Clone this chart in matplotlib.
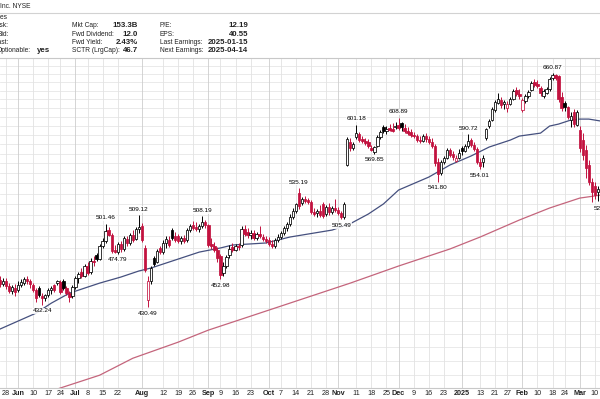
import numpy as np
import pandas as pd
import matplotlib
matplotlib.use('Agg')
import matplotlib.pyplot as plt
from matplotlib.lines import Line2D
from matplotlib.ticker import NullLocator

# daily candles, 23 May 2024 .. 13 Mar 2025
opens = [452.3, 449.0, 451.5, 447.4, 443.3, 445.7, 444.1, 448.2, 449.8, 453.1,
         451.5, 448.2, 444.1, 445.7, 439.2, 437.6, 440.0, 444.1, 448.2, 449.8,
         450.7, 451.5, 445.7, 441.6, 439.2, 446.6, 454.0, 459.0, 455.7, 464.1,
         459.0, 468.3, 473.5, 470.0, 481.4, 485.8, 495.7, 491.2, 477.9, 476.1,
         483.2, 478.8, 487.6, 484.1, 491.2, 487.6, 496.6, 499.4, 479.7, 436.0,
         451.5, 470.9, 467.5, 479.7, 476.1, 484.1, 486.7, 495.7, 490.3, 490.3,
         485.8, 488.5, 486.7, 495.7, 500.3, 498.5, 496.6, 499.4, 503.1, 500.3,
         483.2, 481.4, 477.9, 472.6, 458.2, 464.1, 473.5, 480.6, 477.9, 481.4,
         482.3, 496.6, 493.9, 491.2, 493.0, 488.5, 492.1, 489.4, 487.6, 486.7,
         483.2, 481.4, 486.7, 489.4, 493.0, 497.5, 501.2, 507.7, 513.3, 530.5,
         520.8, 524.6, 523.7, 521.8, 512.3, 511.4, 513.3, 519.8, 510.4, 517.0,
         512.3, 516.1, 514.2, 511.4, 507.7, 558.4, 582.4, 576.0, 587.7, 591.0,
         585.6, 583.4, 582.4, 576.0, 571.8, 578.1, 587.7, 598.6, 594.2, 597.5,
         596.4, 598.6, 600.8, 603.0, 597.5, 594.2, 593.1, 589.9, 588.8, 584.5,
         583.4, 588.8, 585.6, 582.4, 578.1, 561.5, 550.3, 561.5, 565.5, 573.9,
         569.7, 562.5, 565.5, 576.0, 572.9, 578.1, 584.5, 579.2, 575.0, 561.5,
         561.5, 586.7, 599.7, 606.3, 617.5, 625.5, 628.9, 624.3, 619.8, 624.3,
         630.0, 640.6, 635.9, 617.5, 627.8, 633.5, 640.6, 650.0, 647.7, 642.9,
         633.5, 637.1, 641.8, 654.8, 658.4, 657.2, 632.4, 625.5, 620.9, 606.3,
         615.3, 600.8, 595.3, 584.5, 573.9, 558.4, 541.2, 537.3, 531.4, 533.4,
         527.5]
highs = [455.7, 454.0, 454.0, 449.8, 448.2, 449.0, 451.5, 453.1, 454.8, 455.7,
         453.1, 449.8, 445.7, 447.4, 441.6, 440.8, 445.7, 447.4, 449.0, 452.3,
         452.3, 453.1, 447.4, 443.3, 448.2, 455.7, 459.0, 462.4, 465.7, 467.5,
         470.9, 472.6, 475.3, 483.2, 488.5, 501.46, 498.5, 493.0, 482.3, 485.0,
         485.8, 490.3, 490.3, 493.0, 495.7, 498.5, 509.12, 502.2, 482.3, 455.7,
         464.1, 472.6, 478.8, 481.4, 486.7, 490.3, 490.3, 497.5, 493.9, 492.1,
         490.3, 491.2, 497.5, 501.2, 504.0, 503.1, 501.2, 508.19, 504.9, 501.2,
         488.5, 485.0, 480.6, 474.4, 467.5, 473.5, 482.3, 484.1, 483.2, 484.1,
         499.4, 500.3, 497.5, 495.7, 495.7, 493.9, 499.4, 492.1, 490.3, 489.4,
         486.7, 488.5, 492.1, 494.8, 499.4, 503.1, 510.4, 516.1, 520.8, 535.19,
         526.6, 527.5, 525.6, 523.7, 516.1, 515.1, 518.9, 521.8, 518.9, 520.8,
         518.0, 524.6, 517.0, 513.3, 521.8, 587.7, 586.7, 582.4, 601.18, 593.1,
         588.8, 586.7, 585.6, 579.2, 578.1, 589.9, 595.3, 600.8, 599.7, 601.9,
         603.0, 604.1, 608.89, 604.1, 601.9, 598.6, 596.4, 593.1, 591.0, 588.8,
         591.0, 592.0, 588.8, 586.7, 580.3, 565.5, 563.5, 567.7, 576.0, 576.0,
         572.9, 568.7, 575.0, 578.1, 580.3, 590.72, 586.7, 582.4, 577.1, 565.5,
         568.7, 597.5, 607.4, 621.0, 628.9, 637.2, 632.4, 628.9, 627.8, 632.4,
         641.8, 644.1, 641.8, 631.2, 635.9, 640.6, 651.2, 653.6, 652.4, 645.3,
         641.8, 644.1, 655.6, 660.87, 659.6, 658.4, 638.3, 627.8, 622.1, 615.3,
         618.6, 617.5, 599.7, 592.0, 579.2, 563.5, 545.2, 541.2, 537.3, 539.3,
         531.4]
lows = [446.6, 447.4, 444.9, 441.6, 440.8, 439.2, 442.5, 446.6, 448.2, 449.0,
        445.7, 442.5, 434.4, 438.4, 432.24, 435.2, 438.4, 440.8, 442.5, 448.2,
        440.8, 444.1, 440.0, 434.4, 437.6, 444.9, 449.8, 454.0, 454.8, 456.5,
        457.3, 464.1, 468.3, 469.2, 479.7, 484.1, 490.3, 475.3, 475.5, 474.79,
        476.1, 477.0, 481.4, 482.3, 485.0, 486.7, 493.0, 485.0, 459.0, 430.49,
        449.0, 464.1, 466.6, 474.4, 474.4, 479.7, 480.6, 486.7, 485.0, 484.1,
        483.2, 484.1, 485.0, 493.9, 495.7, 494.8, 493.9, 497.5, 497.5, 480.6,
        478.8, 476.1, 467.5, 452.98, 455.7, 462.4, 470.9, 476.1, 477.0, 477.9,
        480.6, 490.3, 488.5, 487.6, 486.7, 486.7, 488.5, 485.8, 484.1, 481.4,
        479.7, 479.7, 485.0, 487.6, 491.2, 494.8, 499.4, 505.8, 511.4, 515.1,
        518.9, 520.8, 519.8, 510.4, 508.6, 507.7, 507.7, 506.8, 508.6, 509.5,
        510.4, 512.3, 509.5, 505.49, 505.8, 557.4, 572.9, 573.9, 585.6, 582.4,
        581.3, 579.2, 576.0, 572.9, 569.85, 577.1, 585.6, 592.0, 591.0, 594.2,
        593.1, 596.4, 595.3, 594.2, 592.0, 589.9, 587.7, 586.7, 582.4, 581.3,
        582.4, 582.4, 580.3, 576.0, 557.4, 541.80, 548.2, 559.4, 564.5, 566.6,
        563.5, 561.5, 564.5, 568.7, 571.8, 576.0, 577.1, 572.9, 559.4, 554.01,
        556.4, 584.5, 597.5, 605.2, 615.3, 624.3, 619.8, 618.6, 615.3, 623.2,
        628.9, 633.5, 630.0, 615.3, 625.5, 631.2, 639.4, 644.1, 642.9, 633.5,
        631.2, 635.9, 639.4, 652.4, 652.4, 626.6, 616.4, 616.4, 607.4, 598.6,
        598.6, 599.7, 571.8, 563.5, 545.2, 538.3, 521.8, 524.6, 522.7, 523.7,
        521.24]
closes = [449.0, 451.5, 447.4, 443.3, 446.6, 442.5, 448.2, 450.7, 453.1, 451.5,
          449.0, 444.1, 437.6, 440.0, 437.6, 440.0, 444.1, 445.7, 444.1, 451.5,
          442.5, 445.7, 441.6, 438.4, 446.6, 454.0, 457.3, 455.7, 464.1, 458.2,
          468.3, 467.5, 470.0, 481.4, 485.8, 494.8, 491.2, 477.0, 476.1, 483.2,
          478.8, 488.5, 484.1, 491.2, 486.7, 496.6, 498.5, 486.7, 460.7, 451.5,
          462.4, 465.7, 477.0, 476.1, 484.1, 487.6, 482.3, 488.5, 486.7, 485.8,
          488.5, 485.8, 495.7, 499.4, 497.5, 496.6, 499.4, 503.1, 500.3, 482.3,
          481.4, 477.9, 470.9, 456.5, 464.1, 471.8, 478.8, 477.9, 481.4, 480.6,
          496.6, 492.1, 491.2, 493.0, 488.5, 492.1, 490.3, 487.6, 485.8, 483.2,
          481.4, 486.7, 489.4, 493.0, 497.5, 501.2, 507.7, 513.3, 519.8, 518.0,
          524.6, 522.7, 521.8, 512.3, 510.4, 513.3, 509.5, 508.6, 517.0, 512.3,
          516.1, 514.2, 511.4, 507.7, 519.8, 585.6, 576.0, 580.3, 592.0, 584.5,
          583.4, 581.3, 578.1, 573.9, 577.1, 587.7, 593.1, 594.2, 596.4, 595.3,
          594.2, 599.7, 597.5, 598.6, 594.2, 592.0, 589.9, 588.8, 584.5, 583.4,
          588.8, 585.6, 582.4, 578.1, 560.5, 549.2, 561.5, 565.5, 573.9, 568.7,
          566.6, 565.5, 570.8, 572.9, 578.1, 583.4, 579.2, 575.0, 561.5, 557.4,
          565.5, 596.4, 605.2, 618.6, 626.6, 630.0, 623.2, 626.6, 624.3, 630.0,
          639.4, 635.9, 633.5, 628.9, 633.5, 638.3, 648.8, 646.5, 645.3, 637.1,
          639.4, 641.8, 653.6, 658.4, 654.8, 630.0, 619.8, 620.9, 609.7, 610.8,
          601.9, 615.3, 576.0, 568.7, 555.3, 541.2, 531.4, 528.5, 534.3, 527.5,
          525.6]

# moving averages (trading day, 0 = 28 May 2024)
ma50_days = [-2, 10, 15, 21, 31, 38, 44, 48, 56, 64, 71, 75, 86, 94, 108, 114,
             120, 125, 130, 140, 147, 154, 160, 167, 170, 177, 180, 183, 187,
             190, 193, 197]
ma50_vals = [413.5, 425.8, 433.6, 441.6, 449.8, 454.8, 459.9, 462.4, 469.2,
             476.1, 479.7, 482.3, 484.1, 489.4, 495.7, 501.5, 510.5, 520.0,
             533.4, 546.2, 558.4, 567.7, 577.1, 584.5, 588.8, 592.0, 599.7,
             601.9, 606.3, 607.4, 607.4, 605.2]
ma200_days = [10, 18, 31, 42, 57, 67, 81, 97, 114, 130, 147, 157, 170, 180,
              190, 197]
ma200_vals = [365.6, 371.2, 380.0, 392.0, 403.7, 412.7, 423.4, 436.0, 449.8,
              464.1, 478.8, 489.4, 504.9, 516.1, 525.6, 528.5]

high_marks = [33, 44, 65, 97, 116, 130, 153, 181]
low_marks = [12, 37, 47, 71, 111, 122, 143, 157, 198]

tick_dates = ['2024-05-28', '2024-06-03', '2024-06-10', '2024-06-17', '2024-06-24',
              '2024-07-01', '2024-07-08', '2024-07-15', '2024-07-22', '2024-08-01',
              '2024-08-12', '2024-08-19', '2024-08-26', '2024-09-03', '2024-09-09',
              '2024-09-16', '2024-09-23', '2024-10-01', '2024-10-07', '2024-10-14',
              '2024-10-21', '2024-10-28', '2024-11-01', '2024-11-11', '2024-11-18',
              '2024-11-25', '2024-12-02', '2024-12-09', '2024-12-16', '2024-12-23',
              '2025-01-02', '2025-01-13', '2025-01-21', '2025-01-27', '2025-02-03',
              '2025-02-10', '2025-02-18', '2025-02-24', '2025-03-03', '2025-03-10']
tick_text = ['28', 'Jun', '10', '17', '24', 'Jul', '8', '15', '22', 'Aug',
             '12', '19', '26', 'Sep', '9', '16', '23', 'Oct', '7', '14',
             '21', '28', 'Nov', '11', '18', '25', 'Dec', '9', '16', '23',
             '2025', '13', '21', '27', 'Feb', '10', '18', '24', 'Mar', '10']

holidays = ['2024-05-27', '2024-06-19', '2024-07-04', '2024-09-02', '2024-11-28',
            '2024-12-25', '2025-01-01', '2025-01-09', '2025-01-20', '2025-02-17']

days = pd.bdate_range('2024-05-23', '2025-03-13')
days = days[~days.isin(pd.to_datetime(holidays))]
OFF = 2  # 28 May is the third session shown

o = np.array(opens)
h = np.array(highs)
l = np.array(lows)
c = np.array(closes)
x = np.arange(len(c))

RED = '#c2123f'
prev = np.concatenate([[o[0]], c[:-1]])
cols = np.where(c >= prev, 'black', RED)
faces = np.where(c >= o, 'white', cols)

fig = plt.figure(figsize=(6, 3.99), dpi=100)
ax = fig.add_axes([0, 11 / 399, 1, 330 / 399])
ax.set_yscale('log')

# grid
for lev in np.arange(380, 690, 10):
    ax.axhline(lev, color='#e2e2e2', lw=0.5, zorder=0)
tick_pos = [days.get_loc(pd.Timestamp(d)) for d in tick_dates]
for p, t in zip(tick_pos, tick_text):
    big = not t.isdigit() or len(t) == 4
    ax.axvline(p, color='#cdcdcd' if big else '#e2e2e2', lw=0.6, zorder=0)

ax.plot(np.array(ma50_days) + OFF, ma50_vals, color='#45507e', lw=0.9, zorder=2)
ax.plot(np.array(ma200_days) + OFF, ma200_vals, color='#c4657c', lw=0.9, zorder=2)

ax.vlines(x, l, h, colors=cols, lw=0.7, zorder=3)
ax.bar(x, np.maximum(np.abs(c - o), 0.35), bottom=np.minimum(o, c), width=0.78,
       color=faces, edgecolor=cols, linewidth=0.55, zorder=4)

box = dict(boxstyle='square,pad=0.12', fc='white', ec='none', alpha=0.85)
for i in high_marks:
    ax.annotate(f'{h[i + OFF]:.2f}', (i + OFF, h[i + OFF]), xytext=(0, 2.5),
                textcoords='offset points', ha='center', va='bottom',
                fontsize=4.6, family='Liberation Sans', bbox=box,
                annotation_clip=False, zorder=6)
for i in low_marks:
    ax.annotate(f'{l[i + OFF]:.2f}', (i + OFF, l[i + OFF]), xytext=(0, -2.5),
                textcoords='offset points', ha='center', va='top',
                fontsize=4.6, family='Liberation Sans', bbox=box,
                annotation_clip=False, zorder=6)

ax.set_xlim(0.013, 198.7)
ax.set_ylim(371.2, 679.3)
ax.yaxis.set_minor_locator(NullLocator())
ax.set_yticks([])
ax.set_xticks(tick_pos)
ax.set_xticklabels(tick_text)
ax.tick_params(axis='x', length=0, pad=1.2, labelsize=5.2, labelcolor='#222222')
for lab, t in zip(ax.get_xticklabels(), tick_text):
    lab.set_family('Liberation Sans')
    if not t.isdigit() or len(t) == 4:
        lab.set_fontweight('bold')
for s in ['left', 'right']:
    ax.spines[s].set_visible(False)
for s in ['top', 'bottom']:
    ax.spines[s].set_color('#c8c8c8')
    ax.spines[s].set_linewidth(0.8)

# header panel
fig.add_artist(Line2D([0, 1], [1 - 12.7 / 399] * 2, color='#d2d2d2', lw=0.8))


def head(px, py, s, ha='left', bold=False):
    fig.text(px / 600, 1 - py / 399, s, ha=ha, va='center', color='#222222',
             family='Liberation Sans', fontsize=5.7 if bold else 4.8,
             fontweight='bold' if bold else 'normal')


head(31, 7, 'Inc. NYSE', ha='right')
head(7, 17.7, 'Investment Services', ha='right')
rows = [25.7, 34, 42.3, 50.7]
for py, s in zip(rows, ['Ask:', 'Bid:', 'Last:']):
    head(9, py, s, ha='right')
head(31, rows[3], 'Optionable:', ha='right')
head(37, rows[3], 'yes', bold=True)
for py, s, v in zip(rows, ['Mkt Cap:', 'Fwd Dividend:', 'Fwd Yield:', 'SCTR (LrgCap):'],
                    ['153.3B', '12.0', '2.43%', '46.7']):
    head(72, py, s)
    head(138, py, v, ha='right', bold=True)
for py, s, v in zip(rows, ['P/E:', 'EPS:', 'Last Earnings:', 'Next Earnings:'],
                    ['12.19', '40.55', '2025-01-15', '2025-04-14']):
    head(160, py, s)
    head(248, py, v, ha='right', bold=True)

fig.savefig('out.png', dpi=100)
